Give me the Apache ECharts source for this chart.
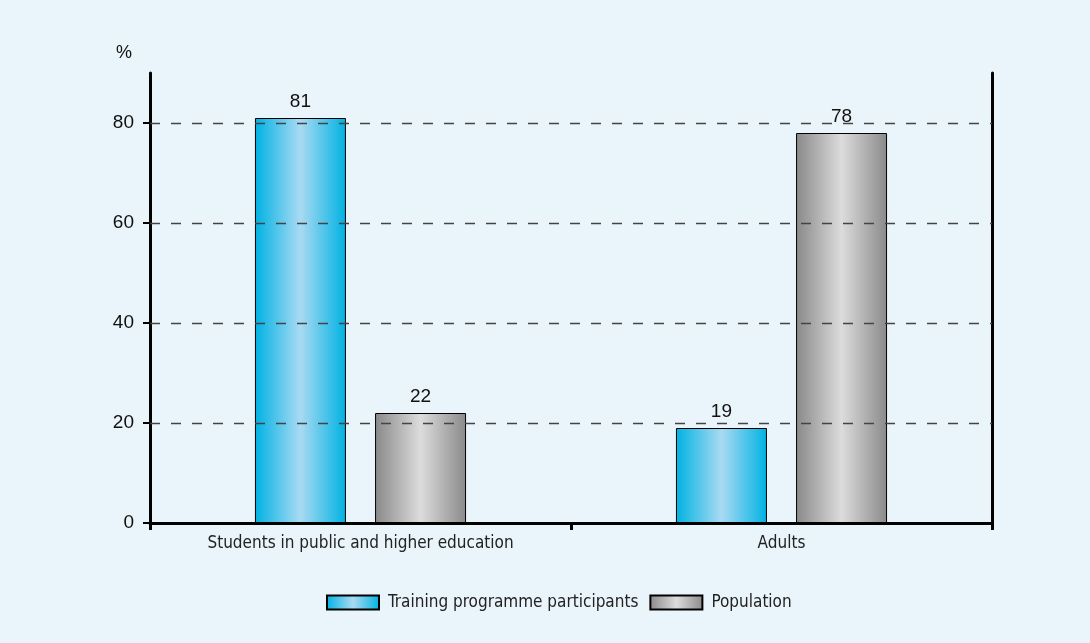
<!DOCTYPE html>
<html><head><meta charset="utf-8">
<script src="https://cdn.jsdelivr.net/npm/echarts@6/dist/echarts.min.js"></script>
<style>html,body{margin:0;padding:0;background:#eaf4fb;}#c{width:1090px;height:643px;}</style>
</head><body><div id="c"></div>
<script>
const categories = ["Students in public and higher education", "Adults"];
const seriesNames = ["Training programme participants", "Population"];
const participants = [81, 19];
const population = [22, 78];
const yTicks = [0, 20, 40, 60, 80];
const yMax = 90;

const narrow = "'DejaVu Sans Condensed', 'Liberation Sans Narrow', sans-serif";
const sans = "'Liberation Sans', Arial, sans-serif";
const blueGrad = new echarts.graphic.LinearGradient(0, 0, 1, 0, [
  {offset: 0, color: '#00b2e3'}, {offset: 0.5, color: '#a9daf2'}, {offset: 1, color: '#00b2e3'}]);
const grayGrad = new echarts.graphic.LinearGradient(0, 0, 1, 0, [
  {offset: 0, color: '#898989'}, {offset: 0.5, color: '#dcdcdc'}, {offset: 1, color: '#8a8a8a'}]);

const chart = echarts.init(document.getElementById('c'), null, {renderer: 'canvas'});
chart.setOption({
  backgroundColor: '#eaf4fb',
  animation: false,
  grid: {left: 150, right: 98, top: 73, bottom: 120, containLabel: false},
  legend: {
    bottom: 27, left: 321, itemWidth: 52, itemHeight: 14, itemGap: 11,
    icon: 'rect',
    data: seriesNames,
    textStyle: {fontFamily: narrow, fontSize: 17, color: '#222', padding: [0, 0, 0, 4]}
  },
  xAxis: {
    type: 'category', data: categories,
    axisLine: {lineStyle: {color: '#000', width: 3}},
    axisTick: {show: true, length: 7, lineStyle: {color: '#000', width: 3}},
    axisLabel: {fontFamily: narrow, fontSize: 17, color: '#222', margin: 12}
  },
  yAxis: [{
    type: 'value', min: 0, max: yMax, interval: 10,
    name: '%', nameLocation: 'end', nameGap: 11,
    nameTextStyle: {fontFamily: sans, fontSize: 18, color: '#111', align: 'right', padding: [0, 18, 0, 0]},
    axisLine: {show: true, lineStyle: {color: '#000', width: 3}},
    axisTick: {show: true, length: 7, lineStyle: {color: '#000', width: 2}, customValues: yTicks},
    axisLabel: {fontFamily: sans, fontSize: 19, color: '#111', margin: 16, customValues: yTicks},
    splitLine: {show: false}
  }, {
    type: 'value', min: 0, max: yMax, position: 'right',
    axisLine: {show: true, lineStyle: {color: '#000', width: 3}},
    axisTick: {show: false}, axisLabel: {show: false}, splitLine: {show: false}
  }],
  series: [
    {
      type: 'line', data: [], z: 1, silent: true, showSymbol: false,
      markLine: {
        silent: true, symbol: 'none', label: {show: false},
        lineStyle: {type: [10, 11], color: '#444', width: 1.3},
        data: yTicks.filter(v => v > 0).map(v => ({yAxis: v}))
      }
    },
    {
      name: seriesNames[0], type: 'bar', data: participants, z: 3,
      barWidth: 91, barGap: '32%',
      itemStyle: {color: blueGrad, borderColor: '#000', borderWidth: 1},
      label: {show: true, position: 'top', distance: 7, fontFamily: sans, fontSize: 19, color: '#111'}
    },
    {
      name: seriesNames[1], type: 'bar', data: population, z: 3,
      barWidth: 91,
      itemStyle: {color: grayGrad, borderColor: '#000', borderWidth: 1},
      label: {show: true, position: 'top', distance: 7, fontFamily: sans, fontSize: 19, color: '#111'}
    }
  ]
});
</script>
</body></html>
